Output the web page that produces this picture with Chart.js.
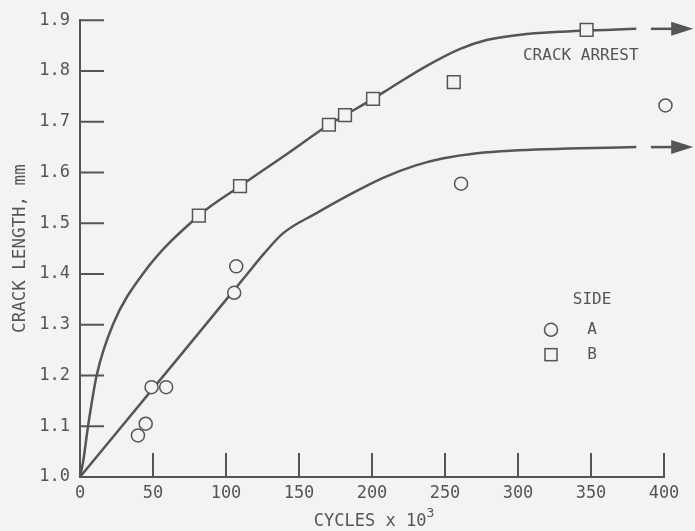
<!DOCTYPE html>
<html>
<head>
<meta charset="utf-8">
<script src="https://cdn.jsdelivr.net/npm/chart.js@4/dist/chart.umd.min.js"></script>
<style>
  html, body { margin: 0; padding: 0; background: #f3f3f2; }
  canvas { display: block; }
</style>
</head>
<body>
<canvas id="crackChart" width="695" height="531"></canvas>
<script>
// Crack length vs cycles, sides A and B

// measured points (cycles x 10^3, crack length mm)
const sideA_x = [39.7, 45, 49, 59, 105.6, 107, 261, 401];
const sideA_y = [1.082, 1.105, 1.177, 1.177, 1.363, 1.415, 1.578, 1.732];
const sideB_x = [81.4, 109.6, 170.5, 181.5, 200.7, 256, 347];
const sideB_y = [1.515, 1.573, 1.694, 1.713, 1.745, 1.778, 1.881];

// faired curves
const curveB_x = [0, 2.3, 5.5, 11.4, 22.5, 43, 81.4, 109.6, 142, 170.5, 200.7, 214, 237.5, 260, 278.5, 306, 342.5, 381];
const curveB_y = [1.0, 1.033, 1.1, 1.2, 1.3, 1.4, 1.515, 1.573, 1.637, 1.694, 1.745, 1.769, 1.81, 1.843, 1.861, 1.873, 1.879, 1.883];
const curveA_x = [0, 72, 114, 126, 139, 162, 185, 208, 230, 249, 272, 295, 381];
const curveA_y = [1.0, 1.251, 1.398, 1.44, 1.48, 1.52, 1.557, 1.59, 1.614, 1.628, 1.638, 1.643, 1.65];

// "crack arrest" arrows: start / tip in cycles, level in mm
const arrowFrom = 391;
const arrowTo = 420;
const arrowLevels = [1.883, 1.65];

const xTicks = [0, 50, 100, 150, 200, 250, 300, 350, 400];
const yTicks = [1.0, 1.1, 1.2, 1.3, 1.4, 1.5, 1.6, 1.7, 1.8, 1.9];

const INK = "#555555";
const PAPER = "#f3f3f2";
const FONT = "'DejaVu Sans Mono', monospace";

function toPoints(xs, ys) {
  return xs.map((x, i) => ({ x, y: ys[i] }));
}

// inward tick marks, arrows, annotation, legend and x title with exponent
const paperPlugin = {
  id: "paperPlugin",
  afterDatasetsDraw(chart) {
    const { ctx, chartArea, scales } = chart;
    const xs = scales.x, ys = scales.y;
    ctx.save();
    ctx.strokeStyle = INK;
    ctx.lineWidth = 2;
    ctx.beginPath();
    yTicks.forEach(v => {
      const py = ys.getPixelForValue(v);
      ctx.moveTo(chartArea.left, py);
      ctx.lineTo(chartArea.left + 24, py);
    });
    xTicks.forEach(v => {
      const px = xs.getPixelForValue(v);
      ctx.moveTo(px, chartArea.bottom);
      ctx.lineTo(px, chartArea.bottom - 24);
    });
    ctx.stroke();

    // arrows
    ctx.fillStyle = INK;
    ctx.lineWidth = 2.5;
    arrowLevels.forEach(lv => {
      const py = ys.getPixelForValue(lv);
      const x0 = xs.getPixelForValue(arrowFrom);
      const x1 = xs.getPixelForValue(arrowTo);
      ctx.beginPath();
      ctx.moveTo(x0, py);
      ctx.lineTo(x1 - 18, py);
      ctx.stroke();
      ctx.beginPath();
      ctx.moveTo(x1, py);
      ctx.lineTo(x1 - 22, py - 7);
      ctx.lineTo(x1 - 22, py + 7);
      ctx.closePath();
      ctx.fill();
    });

    // annotation
    ctx.font = "16px " + FONT;
    ctx.textAlign = "center";
    ctx.textBaseline = "middle";
    ctx.fillText("CRACK ARREST", xs.getPixelForValue(343), ys.getPixelForValue(1.83));

    // legend
    const lx = xs.getPixelForValue(322.6);
    const tx = xs.getPixelForValue(350.7);
    ctx.fillText("SIDE", tx, ys.getPixelForValue(1.349));
    ctx.fillText("A", tx, ys.getPixelForValue(1.29));
    ctx.fillText("B", tx, ys.getPixelForValue(1.241));
    ctx.lineWidth = 1.5;
    ctx.beginPath();
    ctx.arc(lx, ys.getPixelForValue(1.29), 6.5, 0, Math.PI * 2);
    ctx.stroke();
    const sy = ys.getPixelForValue(1.241);
    ctx.strokeRect(lx - 6, sy - 6, 12, 12);

    // x axis title: CYCLES x 10^3
    const base = "CYCLES x 10";
    ctx.font = "17px " + FONT;
    const w = ctx.measureText(base).width;
    ctx.font = "13px " + FONT;
    const wExp = ctx.measureText("3").width;
    const cx = (chartArea.left + chartArea.right) / 2 + 2;
    const startX = cx - (w + wExp) / 2;
    ctx.textAlign = "left";
    ctx.textBaseline = "alphabetic";
    ctx.font = "17px " + FONT;
    ctx.fillText(base, startX, chartArea.bottom + 49);
    ctx.font = "13px " + FONT;
    ctx.fillText("3", startX + w, chartArea.bottom + 40);
    ctx.restore();
  }
};

new Chart(document.getElementById("crackChart").getContext("2d"), {
  type: "scatter",
  data: {
    datasets: [
      {
        label: "A",
        data: toPoints(sideA_x, sideA_y),
        pointStyle: "circle",
        pointRadius: 6.5,
        pointBorderWidth: 1.5,
        pointBorderColor: INK,
        pointBackgroundColor: PAPER,
        showLine: false,
        clip: false
      },
      {
        label: "B",
        data: toPoints(sideB_x, sideB_y),
        pointStyle: "rect",
        pointRadius: 9,
        pointBorderWidth: 1.5,
        pointBorderColor: INK,
        pointBackgroundColor: PAPER,
        showLine: false,
        clip: false
      },
      {
        label: "curve B",
        data: toPoints(curveB_x, curveB_y),
        showLine: true,
        pointRadius: 0,
        borderColor: INK,
        borderWidth: 2.5,
        cubicInterpolationMode: "monotone",
        clip: false
      },
      {
        label: "curve A",
        data: toPoints(curveA_x, curveA_y),
        showLine: true,
        pointRadius: 0,
        borderColor: INK,
        borderWidth: 2.5,
        cubicInterpolationMode: "monotone",
        clip: false
      }
    ]
  },
  options: {
    responsive: false,
    animation: false,
    devicePixelRatio: 1,
    layout: { padding: { top: 15, right: 31, left: 0, bottom: 0 } },
    plugins: {
      legend: { display: false },
      tooltip: { enabled: false }
    },
    scales: {
      x: {
        type: "linear",
        min: 0,
        max: 400,
        afterFit: s => { s.height = 54; },
        afterBuildTicks: s => { s.ticks = xTicks.map(v => ({ value: v })); },
        grid: { display: false, drawTicks: false },
        border: { display: true, color: INK, width: 2 },
        ticks: {
          color: INK,
          padding: 6,
          maxRotation: 0,
          font: { family: FONT, size: 17 }
        },
        title: { display: false }
      },
      y: {
        type: "linear",
        min: 1.0,
        max: 1.9,
        afterFit: s => { s.width = 80; },
        afterBuildTicks: s => { s.ticks = yTicks.map(v => ({ value: v })); },
        grid: { display: false, drawTicks: false },
        border: { display: true, color: INK, width: 2 },
        ticks: {
          color: INK,
          padding: 10,
          font: { family: FONT, size: 17 },
          callback: v => v.toFixed(1)
        },
        title: {
          display: true,
          text: "CRACK LENGTH, mm",
          color: INK,
          padding: { top: 10, bottom: 0 },
          font: { family: FONT, size: 17.5 }
        }
      }
    }
  },
  plugins: [paperPlugin]
});
</script>
</body>
</html>
